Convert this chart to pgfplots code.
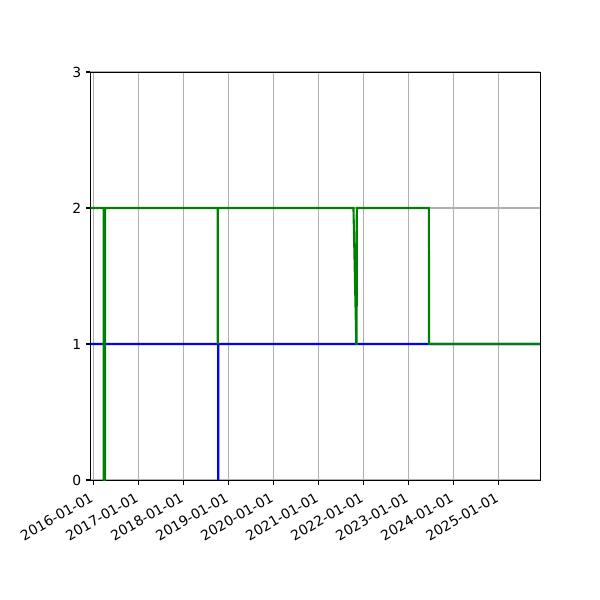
\documentclass[border=0pt]{standalone}
\usepackage{fontspec}
\setmainfont{DejaVu Sans}
\usepackage{pgfplots}
\pgfplotsset{compat=1.18}
\definecolor{mgreen}{RGB}{0,128,0}
\definecolor{gridgray}{RGB}{176,176,176}
\begin{document}
\begin{tikzpicture}
\useasboundingbox (-65.16pt,-86.4pt) rectangle (366.84pt,345.6pt);
\begin{axis}[
  at={(0,0)}, anchor=south west,
  scale only axis,
  width=323.64pt, height=293.76pt,
  xmin=-23, xmax=3623,
  ymin=0, ymax=3,
  xtick={0,366,731,1096,1461,1827,2192,2557,2922,3288},
  xticklabels={2016-01-01,2017-01-01,2018-01-01,2019-01-01,2020-01-01,2021-01-01,2022-01-01,2023-01-01,2024-01-01,2025-01-01},
  ytick={0,1,2,3},
  /pgf/number format/assume math mode=true,
  tick align=outside,
  tick pos=left,
  major tick length=3.5pt,
  every tick/.style={black, line width=0.8pt},
  axis line style={line width=0.6pt},
  grid=major,
  major grid style={gridgray, line width=0.8pt},
  tick label style={font=\fontsize{10}{12}\selectfont},
  xticklabel style={rotate=30, anchor=north east, inner sep=1pt, yshift=-1.5pt, xshift=-4pt},
  yticklabel style={inner sep=1pt, xshift=-2pt},
]
\addplot[blue, line width=1.5pt, line join=miter] coordinates {
(-23,1) (1012,1) (1013,0) (1014,1) (3623,1)
};
\addplot[mgreen, line width=1.5pt, line join=miter] coordinates {
(-23,2) (83,2) (84,0) (95,0) (96,2) (1008,2) (1009,1) (1010,2) (2110,2) (2133,1) (2136,1) (2137,2) (2722,2) (2723,1) (3623,1)
};
\end{axis}
\end{tikzpicture}
\end{document}
